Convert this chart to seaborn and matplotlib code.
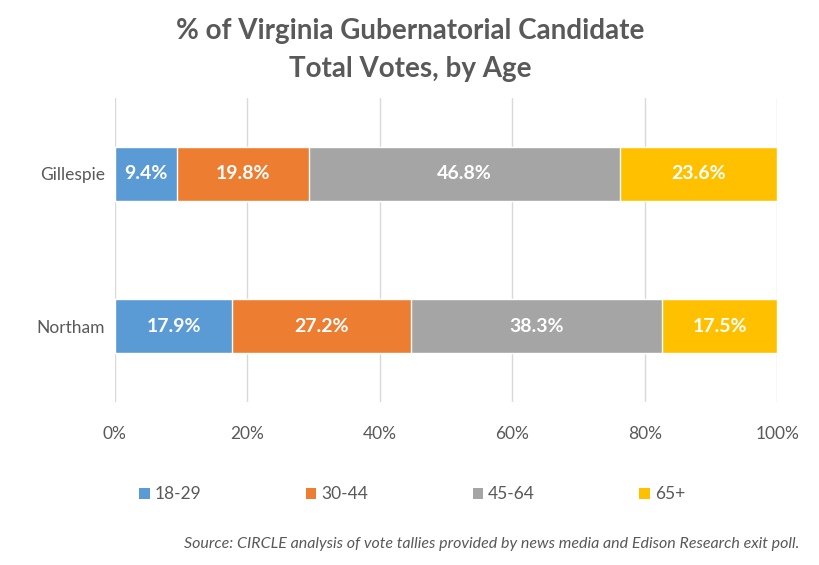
import numpy as np
import pandas as pd
import matplotlib
matplotlib.use('Agg')
import matplotlib.pyplot as plt
import seaborn as sns
from matplotlib.patches import Patch

# data
candidates = ['Gillespie', 'Northam']
ages = ['18-29', '30-44', '45-64', '65+']
gillespie = [9.4, 19.8, 46.8, 23.6]
northam = [17.9, 27.2, 38.3, 17.5]
colors = ['#5B9BD5', '#ED7D31', '#A5A5A5', '#FFC000']
xticks = [0, 20, 40, 60, 80, 100]

sns.set_theme(style='white')
plt.rcParams['font.family'] = ['Lato', 'DejaVu Sans']
txt = '#595959'

# 100% stacked -> cumulative shares
rows = []
for cand, vals in zip(candidates, [gillespie, northam]):
    v = np.array(vals)
    share = v / v.sum() * 100
    cum = np.cumsum(share)
    start = cum - share
    for a, val, s, c in zip(ages, vals, start, cum):
        rows.append(dict(candidate=cand, age=a, value=val, start=s, cum=c))
df = pd.DataFrame(rows)

fig = plt.figure(figsize=(8.2, 5.65), dpi=100)
ax = fig.add_axes([0.140, 0.288, 0.808, 0.539])

# draw largest cumulative first so smaller ones sit on top
sns.barplot(data=df, y='candidate', x='cum', hue='age',
            hue_order=ages[::-1], palette=dict(zip(ages, colors)),
            order=candidates, dodge=False, width=0.355,
            orient='h', ax=ax, legend=False, saturation=1)

for _, r in df.iterrows():
    y = candidates.index(r['candidate'])
    ax.text((r['start'] + r['cum']) / 2, y, f"{r['value']:.1f}%",
            ha='center', va='center', color='white', fontsize=14,
            fontweight='bold')

ax.set_xlim(0, 100)
ax.set_ylim(1.5, -0.5)
ax.set_xticks(xticks)
ax.set_xticklabels([f'{t}%' for t in xticks])
ax.xaxis.grid(True, color='#D9D9D9', linewidth=1)
ax.set_axisbelow(True)
ax.set_xlabel('')
ax.set_ylabel('')
ax.tick_params(axis='both', length=0, colors=txt, labelsize=12.5)
ax.tick_params(axis='x', pad=17)
ax.tick_params(axis='y', pad=7)
for s in ax.spines.values():
    s.set_visible(False)

fig.text(0.5, 0.945, '% of Virginia Gubernatorial Candidate', ha='center',
         va='center', fontsize=20, fontweight='bold', color=txt)
fig.text(0.5, 0.878, 'Total Votes, by Age', ha='center', va='center',
         fontsize=20, fontweight='bold', color=txt)

handles = [Patch(facecolor=c, edgecolor='none') for c in colors]
fig.legend(handles, ages, loc='center left', bbox_to_anchor=(0.170, 0.125), ncol=4,
           frameon=False, handlelength=0.6, handleheight=0.6, handletextpad=0.3,
           columnspacing=6.0, fontsize=12.5, labelcolor=txt, borderpad=0,
           borderaxespad=0)

fig.text(0.975, 0.038, 'Source: CIRCLE analysis of vote tallies provided by news media '
         'and Edison Research exit poll.', ha='right', va='center',
         fontsize=11.5, style='italic', color=txt)

fig.savefig('out.png', dpi=100, facecolor='white')
